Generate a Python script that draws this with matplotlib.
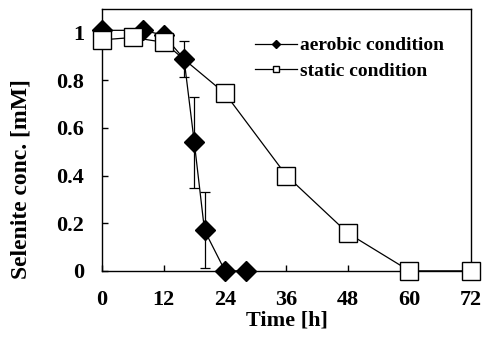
import matplotlib
matplotlib.use("Agg")
import matplotlib.pyplot as plt
from matplotlib.lines import Line2D

plt.rcParams["font.family"] = "Liberation Serif"
plt.rcParams["font.weight"] = "bold"

t_aer = [0, 8, 12, 16, 18, 20, 24, 28]
c_aer = [1.01, 1.01, 0.99, 0.89, 0.54, 0.17, 0.0, 0.0]
err_aer = [0, 0, 0, 0.075, 0.19, 0.16, 0, 0]

t_sta = [0, 6, 12, 24, 36, 48, 60, 72]
c_sta = [0.97, 0.98, 0.96, 0.745, 0.40, 0.158, 0.0, 0.0]

xticks = [0, 12, 24, 36, 48, 60, 72]
yticks = [0, 0.2, 0.4, 0.6, 0.8, 1.0]
ylabels = ["0", "0.2", "0.4", "0.6", "0.8", "1"]

fig = plt.figure(figsize=(4.86, 3.42), dpi=100)
ax = fig.add_axes([0.21, 0.208, 0.759, 0.766])

ax.errorbar(t_aer, c_aer, yerr=err_aer, color="black", lw=0.9, marker="D",
            ms=10, mfc="black", mec="black", capsize=3.5, elinewidth=0.9,
            capthick=0.9, zorder=3, clip_on=False)
ax.plot(t_sta, c_sta, color="black", lw=0.9, marker="s", ms=13.5,
        mfc="white", mec="black", mew=1, zorder=4, clip_on=False)

ax.set_xlim(0, 72)
ax.set_ylim(0, 1.1)
ax.set_xticks(xticks)
ax.set_yticks(yticks)
ax.set_yticklabels(ylabels)
ax.tick_params(direction="in", length=4, width=1, labelsize=16)
ax.tick_params(axis="y", pad=13)
ax.tick_params(axis="x", pad=14)
for s in ax.spines.values():
    s.set_linewidth(1)
for lab in ax.get_xticklabels() + ax.get_yticklabels():
    lab.set_fontweight("bold")

ax.set_xlabel("Time [h]", fontsize=16, fontweight="bold", labelpad=0)
ax.set_ylabel("Selenite conc. [mM]", fontsize=17, fontweight="bold")
ax.yaxis.set_label_coords(-0.19, 0.35)

handles = [
    Line2D([], [], color="black", lw=0.9, marker="D", ms=4.5, mfc="black", mec="black"),
    Line2D([], [], color="black", lw=0.9, marker="s", ms=5, mfc="white", mec="black"),
]
ax.legend(handles, ["aerobic condition", "static condition"], loc="upper right",
          bbox_to_anchor=(0.975, 0.96), frameon=False,
          handlelength=2.2, handletextpad=0.15, labelspacing=0.4,
          prop={"weight": "bold", "size": 14})

fig.savefig("out.png", dpi=100)
